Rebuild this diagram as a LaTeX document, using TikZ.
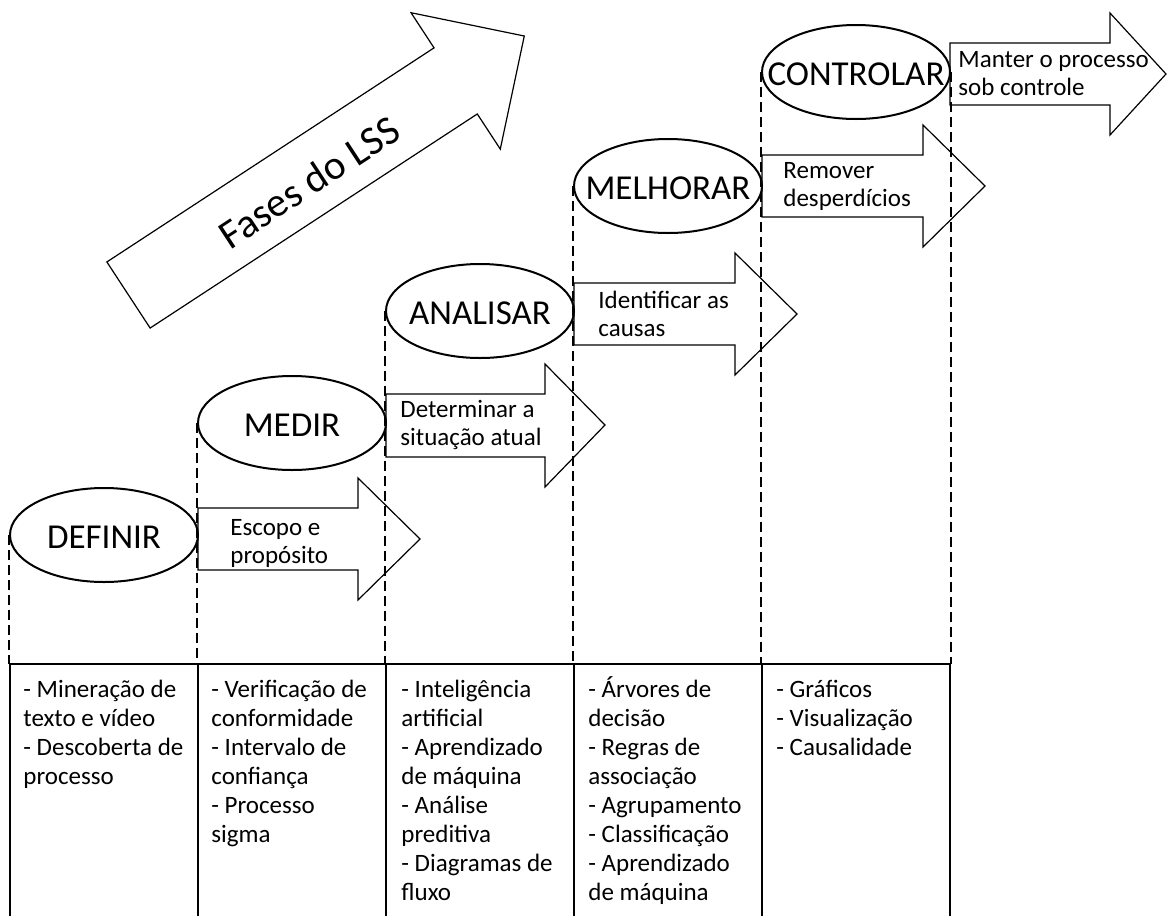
\documentclass[tikz,border=0pt]{standalone}
\usepackage{fontspec}
\setmainfont{Carlito}
\newcommand{\cellstrut}{\rule{0pt}{12.5pt}}
\usetikzlibrary{shapes.geometric}

\begin{document}
\begin{tikzpicture}[x=0.5pt,y=-0.5pt,
  phase/.style={ellipse,draw,line width=1pt,minimum width=94pt,minimum height=47pt,inner sep=0pt},
  phasename/.style={font=\fontsize{17.5}{20}\selectfont,inner sep=0pt,yshift=-1pt},
  blockarrow/.style={draw,line width=0.6pt},
  arrowtext/.style={font=\fontsize{12.5}{14}\selectfont,align=left,anchor=west,inner sep=0pt},
  celltext/.style={font=\fontsize{12.5}{14.5}\selectfont,align=left,anchor=north west,inner sep=0pt},
  guide/.style={dash pattern=on 5pt off 2.5pt,line width=0.6pt}]
\useasboundingbox (0,0) rectangle (1167,916);

%%%%%%%%%%%%%%%%%%Draw The Big Arrow%%%%%%%%%%%%%%%%%%
\begin{scope}[shift={(128.5,295)},rotate=33.2]
\draw[blockarrow] (0,-39.5) -- (391,-39.5) -- (391,-81.5) -- (473,0)
  -- (391,81.5) -- (391,39.5) -- (0,39.5) -- cycle;
\node[rotate=33.2,font=\fontsize{20.5}{24}\selectfont] (fases) at (213,4) {Fases do LSS};
\end{scope}

%%%%%%%%%%%%%%%%%%Draw The Phases%%%%%%%%%%%%%%%%%%%%%%
\node[phase] (definir) at (104,535) {};
\node[phasename] (definirtxt) at (definir) {DEFINIR};
\node[phase] (medir) at (292,423) {};
\node[phasename] (medirtxt) at (medir) {MEDIR};
\node[phase] (analisar) at (480,311) {};
\node[phasename] (analisartxt) at (analisar) {ANALISAR};
\node[phase] (melhorar) at (668,186) {};
\node[phasename] (melhorartxt) at (melhorar) {MELHORAR};
\node[phase] (controlar) at (856,72) {};
\node[phasename] (controlartxt) at (controlar) {CONTROLAR};

%%%%%%%%%%%%%%%%%%Draw The Block Arrows%%%%%%%%%%%%%%%%
\draw[blockarrow] (198,508) -- (358,508) -- (358,478) -- (420,539)
  -- (358,600) -- (358,570) -- (198,570) -- cycle;
\node[arrowtext] (escopo) at (230,543) {Escopo e\\propósito};

\draw[blockarrow] (386,394) -- (545,394) -- (545,364) -- (605,425)
  -- (545,487) -- (545,457) -- (386,457) -- cycle;
\node[arrowtext] (determinar) at (400,425) {Determinar a\\situação atual};

\draw[blockarrow] (574,283) -- (735,283) -- (735,253) -- (797,314)
  -- (735,375) -- (735,345) -- (574,345) -- cycle;
\node[arrowtext] (identificar) at (598,314) {Identificar as\\causas};

\draw[blockarrow] (762,155) -- (923,155) -- (923,125) -- (985,186)
  -- (923,247) -- (923,217) -- (762,217) -- cycle;
\node[arrowtext] (remover) at (783,186) {Remover\\desperdícios};

\draw[blockarrow] (950,43) -- (1110,43) -- (1110,13) -- (1166,74)
  -- (1110,135) -- (1110,105) -- (950,105) -- cycle;
\node[arrowtext] (manter) at (958,74) {Manter o processo\\sob controle};

%%%%%%%%%%%%%%%%%%Draw Dashed Guides%%%%%%%%%%%%%%%%%%%
\coordinate (tabletop) at (0,664);
\draw[guide] (definir.west) -- (definir.west |- tabletop);
\draw[guide] (medir.west) -- (medir.west |- tabletop);
\draw[guide] (analisar.west) -- (analisar.west |- tabletop);
\draw[guide] (melhorar.west) -- (melhorar.west |- tabletop);
\draw[guide] (controlar.west) -- (controlar.west |- tabletop);
\draw[guide] (controlar.east) -- (controlar.east |- tabletop);

%%%%%%%%%%%%%%%%%%Draw The Table%%%%%%%%%%%%%%%%%%%%%%%
\draw[line width=0.7pt] (10,664) -- (950,664);
\draw[line width=0.7pt] (10,664) -- (10,916);
\draw[line width=0.7pt] (198,664) -- (198,916);
\draw[line width=0.7pt] (386,664) -- (386,916);
\draw[line width=0.7pt] (574,664) -- (574,916);
\draw[line width=0.7pt] (762,664) -- (762,916);
\draw[line width=0.7pt] (950,664) -- (950,916);

\node[celltext] (col1) at (23,672) {\cellstrut- Mineração de\\texto e vídeo\\- Descoberta de\\processo};
\node[celltext] (col2) at (211,672) {\cellstrut- Verificação de\\conformidade\\- Intervalo de\\confiança\\- Processo\\sigma};
\node[celltext] (col3) at (401,672) {\cellstrut- Inteligência\\artificial\\- Aprendizado\\de máquina\\- Análise\\preditiva\\- Diagramas de\\fluxo};
\node[celltext] (col4) at (588,672) {\cellstrut- Árvores de\\decisão\\- Regras de\\associação\\- Agrupamento\\- Classificação\\- Aprendizado\\de máquina};
\node[celltext] (col5) at (776,672) {\cellstrut- Gráficos\\- Visualização\\- Causalidade};
\end{tikzpicture}
\end{document}
